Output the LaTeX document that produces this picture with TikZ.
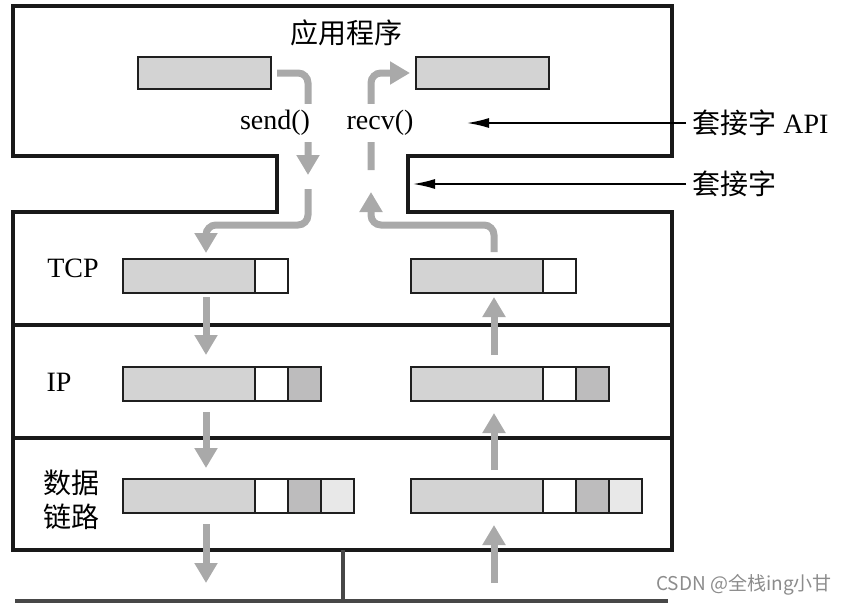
\documentclass[tikz,border=0pt]{standalone}
\usepackage{fontspec}
\setmainfont{Liberation Serif}
\newfontfamily\cjk{Noto Sans CJK SC}
\usepackage{tikz}
\usetikzlibrary{arrows.meta}
\usetikzlibrary{positioning}

\definecolor{bufgray}{HTML}{D3D3D3}
\definecolor{hdrdark}{HTML}{BDBCBD}
\definecolor{hdrlight}{HTML}{E8E8E8}
\definecolor{flowgray}{HTML}{A9A9A9}
\definecolor{wiregray}{HTML}{474747}

\tikzset{
  outline/.style={draw=black!90,line width=1.6pt},
  cell/.style={draw=black!88,line width=1.4pt,minimum height=17pt,inner sep=0pt,outer sep=0pt},
  payload/.style={cell,fill=bufgray,minimum width=66pt},
  hdr/.style={cell,minimum width=16.5pt},
  flow/.style={draw=flowgray,line width=3.5pt,rounded corners=5pt,-{Triangle[width=11pt,length=10pt]}},
  pointer/.style={line width=0.8pt,-{Latex[length=11pt,width=5pt]}},
  lbl/.style={fill=white,inner sep=3pt,font=\fontsize{14}{17}\selectfont},
}

\begin{document}
\begin{tikzpicture}[x=0.5pt,y=-0.5pt,font=\fontsize{14}{17}\selectfont]
	\useasboundingbox (0,0) rectangle (847,606);
	% application box, socket neck and protocol stack
	\draw[outline] (13,6) -- (672,6) -- (672,156) -- (408,156) -- (408,212) -- (672,212)
	  -- (672,550) -- (13,550) -- (13,212) -- (277,212) -- (277,156) -- (13,156) -- cycle;
	\draw[outline] (13,325) -- (672,325);
	\draw[outline] (13,438) -- (672,438);
	\node (app) at (346,33) {\cjk 应用程序};
	\node (tcp) at (73,268) {TCP};
	\node (ip) at (59,382) {IP};
	\node[align=center,font=\cjk\fontsize{14}{17}\selectfont] (link) at (71,500) {数据\\链路};
	% buffers
	\node[cell,fill=bufgray,minimum width=66.5pt,minimum height=16pt,anchor=north west] (appL) at (138,57) {};
	\node[cell,fill=bufgray,minimum width=66.5pt,minimum height=16pt,anchor=north west] (appR) at (416,57) {};
	\foreach \side/\x in {L/123,R/411}{
	  \node[payload,anchor=north west] (tcp\side) at (\x,259) {};
	  \node[hdr,fill=white,right=0pt of tcp\side] (tcp\side h) {};
	  \node[payload,anchor=north west] (ip\side) at (\x,367) {};
	  \node[hdr,fill=white,right=0pt of ip\side] (ip\side a) {};
	  \node[hdr,fill=hdrdark,right=0pt of ip\side a] (ip\side b) {};
	  \node[payload,anchor=north west] (dl\side) at (\x,479) {};
	  \node[hdr,fill=white,right=0pt of dl\side] (dl\side a) {};
	  \node[hdr,fill=hdrdark,right=0pt of dl\side a] (dl\side b) {};
	  \node[hdr,fill=hdrlight,right=0pt of dl\side b] (dl\side c) {};
	}
	% network
	\coordinate (wireL) at (15,601);
	\coordinate (wireR) at (668,601);
	\coordinate (tap) at (343,550);
	\draw[wiregray,line width=2pt] (tap) -- (tap |- wireL);
	\draw[wiregray,line width=2.3pt] (wireL) -- (wireR);
	% data flow
	\coordinate (downx) at (206,0);
	\coordinate (upx) at (494,0);
	\coordinate (sendend) at (308,175);
	\coordinate (sendgo) at (308,189);
	\coordinate (sendturn) at (206,225);
	\coordinate (recvturn) at (371,225);
	\coordinate (recvend) at (371,192);
	\coordinate (recvgo) at (371,170);
	\draw[flow,shorten <=3pt] (appL.east) -| (sendend);
	\draw[flow,shorten >=3pt] (sendgo) |- (sendturn) -- (tcpL.north -| sendturn);
	\draw[flow,shorten <=3.5pt] (tcpR.north -| upx) |- (recvturn) -- (recvend);
	\draw[flow,shorten >=3pt] (recvgo) |- (appR.west);
	\node[lbl] (send) at (275,123) {send()};
	\node[lbl] (recv) at (380,123) {recv()};
	\draw[flow,shorten <=2pt,shorten >=6pt] (tcpL.south -| downx) -- (ipL.north -| downx);
	\draw[flow,shorten <=5.5pt,shorten >=5.5pt] (ipL.south -| downx) -- (dlL.north -| downx);
	\draw[flow,shorten <=5.5pt,shorten >=9pt] (dlL.south -| downx) -- (wireL -| downx);
	\draw[flow,shorten <=9pt,shorten >=6pt] (wireL -| upx) -- (dlR.south -| upx);
	\draw[flow,shorten <=4.5pt,shorten >=6pt] (dlR.north -| upx) -- (ipR.south -| upx);
	\draw[flow,shorten <=6pt,shorten >=2pt] (ipR.north -| upx) -- (tcpR.south -| upx);
	% socket labels
	\coordinate (apitip) at (467,123);
	\coordinate (socktip) at (413,184);
	\node[right,inner sep=3pt] (api) at (686,123) {{\cjk 套接字} API};
	\node[right,inner sep=3pt] (sock) at (686,184) {\cjk 套接字};
	\draw[pointer] (api.west) -- (apitip);
	\draw[pointer] (sock.west) -- (socktip);
	\node[text=black!45,font=\cjk\fontsize{9.5}{11}\selectfont] (mark) at (744,585) {CSDN @全栈ing小甘};
\end{tikzpicture}
\end{document}
